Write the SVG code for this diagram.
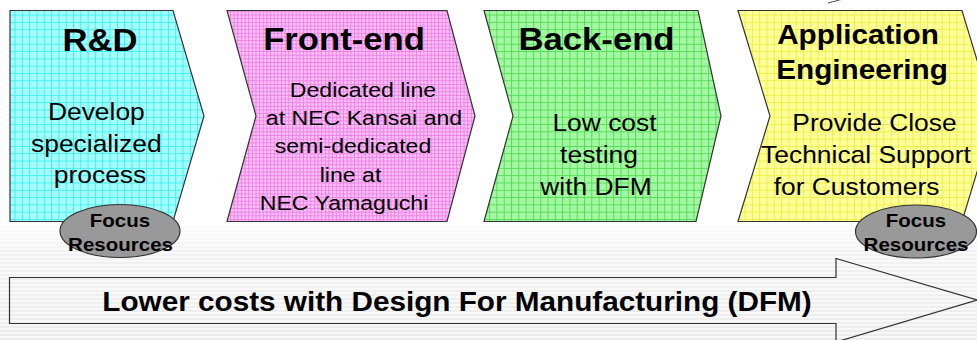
<svg xmlns="http://www.w3.org/2000/svg" width="977" height="340" viewBox="0 0 977 340">
  <defs>
    <!-- faint horizontal banding for the lower backdrop -->
    <pattern id="bands" width="4" height="4" patternUnits="userSpaceOnUse">
      <rect width="4" height="4" fill="#f8f8f8"/>
      <rect y="2" width="4" height="2" fill="#ececec"/>
    </pattern>
    <linearGradient id="fadeIn" x1="0" y1="0" x2="0" y2="1">
      <stop offset="0" stop-color="#ffffff" stop-opacity="0.9"/>
      <stop offset="0.25" stop-color="#ffffff" stop-opacity="0.3"/>
      <stop offset="1" stop-color="#ffffff" stop-opacity="0"/>
    </linearGradient>
    <!-- gridded fills for the stage shapes -->
    <pattern id="gridCyan" width="7.3" height="7.3" patternUnits="userSpaceOnUse">
      <rect width="7.3" height="7.3" fill="#a6fdfd"/>
      <path d="M0 0.5H7.3M0.5 0V7.3" stroke="#3ff0f0" stroke-width="1"/>
    </pattern>
    <pattern id="gridPink" width="7.3" height="7.3" patternUnits="userSpaceOnUse">
      <rect width="7.3" height="7.3" fill="#f8c2f4"/>
      <path d="M0 0.5H7.3M0.5 0V7.3M0 4.15H7.3M4.15 0V7.3" stroke="#ee80e8" stroke-width="1"/>
    </pattern>
    <pattern id="gridGreen" width="7.3" height="7.3" patternUnits="userSpaceOnUse">
      <rect width="7.3" height="7.3" fill="#a4f8a4"/>
      <path d="M0 0.5H7.3M0.5 0V7.3" stroke="#55dd55" stroke-width="1"/>
    </pattern>
    <pattern id="gridYellow" width="7.3" height="7.3" patternUnits="userSpaceOnUse">
      <rect width="7.3" height="7.3" fill="#ffff9c"/>
      <path d="M0 0.5H7.3M0.5 0V7.3" stroke="#eeee44" stroke-width="1"/>
    </pattern>
  </defs>
  <style>
    .stage { stroke: #333333; stroke-width: 1.2; stroke-linejoin: miter; }
    .title { font-family: "Liberation Sans", Arial, sans-serif; font-weight: bold; font-size: 31.5px; fill: #000; text-anchor: middle; }
    .body { font-family: "Liberation Sans", Arial, sans-serif; font-size: 24px; fill: #000; text-anchor: middle; }
    .small { font-size: 21px; }
    .focus { fill: #999999; stroke: #333333; stroke-width: 1.2; }
    .focusText { font-family: "Liberation Sans", Arial, sans-serif; font-weight: bold; font-size: 19px; fill: #000; text-anchor: middle; }
    .banner { fill: none; stroke: #333333; stroke-width: 1.2; }
    .bannerText { font-family: "Liberation Sans", Arial, sans-serif; font-weight: bold; font-size: 27px; fill: #000; text-anchor: middle; }
  </style>

  <!-- backdrop -->
  <rect width="977" height="340" fill="#ffffff"/>
  <rect y="224" width="977" height="116" fill="url(#bands)"/>
  <rect y="224" width="977" height="116" fill="url(#fadeIn)"/>
  <path d="M828 3 L843 -1" stroke="#555555" stroke-width="1" fill="none"/>

  <!-- stage: R&D -->
  <g id="rnd">
    <polygon class="stage" fill="url(#gridCyan)" points="10,10.5 173,10.5 204,116 173,221.5 10,221.5"/>
    <text class="title" transform="translate(100,0) scale(1.1,1)" y="51">R&amp;D</text>
    <text class="body" transform="translate(100,0) scale(1.1,1)">
      <tspan x="0" y="120.5">Develop</tspan>
      <tspan x="0" y="152">specialized</tspan>
      <tspan x="0" y="183.5">process</tspan>
    </text>
  </g>

  <!-- stage: Front-end -->
  <g id="frontend">
    <polygon class="stage" fill="url(#gridPink)" points="227,10.5 447,10.5 475,116 447,221.5 227,221.5 256,116"/>
    <text class="title" transform="translate(344,0) scale(1.1,1)" y="50">Front-end</text>
    <text class="body small" transform="translate(363,0) scale(1.1,1)" y="97">Dedicated line</text>
    <text class="body small" transform="translate(364,0) scale(1.1,1)" y="125">at NEC Kansai and</text>
    <text class="body small" transform="translate(353,0) scale(1.1,1)" y="153.5">semi-dedicated</text>
    <text class="body small" transform="translate(350.5,0) scale(1.1,1)" y="182.5">line at</text>
    <text class="body small" transform="translate(344,0) scale(1.1,1)" y="210.5">NEC Yamaguchi</text>
  </g>

  <!-- stage: Back-end -->
  <g id="backend">
    <polygon class="stage" fill="url(#gridGreen)" points="484,10.5 698,10.5 721,116 696,221.5 484,221.5 513,116"/>
    <text class="title" transform="translate(596.5,0) scale(1.1,1)" y="50">Back-end</text>
    <text class="body" transform="translate(604.5,0) scale(1.1,1)" y="131.5">Low cost</text>
    <text class="body" transform="translate(599,0) scale(1.1,1)" y="163">testing</text>
    <text class="body" transform="translate(596,0) scale(1.1,1)" y="195">with DFM</text>
  </g>

  <!-- stage: Application Engineering -->
  <g id="appeng">
    <polygon class="stage" fill="url(#gridYellow)" points="738,10.5 962,10.5 994,116 962,221.5 738,221.5 770,116"/>
    <text class="title" style="font-size:27px" transform="translate(858,0) scale(1.1,1)" y="44.5">Application</text>
    <text class="title" style="font-size:27px" transform="translate(862,0) scale(1.1,1)" y="79">Engineering</text>
    <text class="body" transform="translate(874.5,0) scale(1.1,1)" y="131.5">Provide Close</text>
    <text class="body" transform="translate(866,0) scale(1.1,1)" y="163">Technical Support</text>
    <text class="body" transform="translate(856.5,0) scale(1.1,1)" y="195">for Customers</text>
  </g>

  <!-- focus markers -->
  <g id="focus-rnd">
    <ellipse class="focus" cx="120" cy="231" rx="60" ry="26.5"/>
    <text class="focusText" transform="translate(120,0) scale(1.08,1)" y="227.5">Focus</text>
    <text class="focusText" transform="translate(120.5,0) scale(1.08,1)" y="251.5">Resources</text>
  </g>
  <g id="focus-appeng">
    <ellipse class="focus" cx="916" cy="231.5" rx="60.5" ry="26.5"/>
    <text class="focusText" transform="translate(916,0) scale(1.08,1)" y="227.5">Focus</text>
    <text class="focusText" transform="translate(916,0) scale(1.08,1)" y="251.5">Resources</text>
  </g>

  <!-- connectors: overall flow banner -->
  <g id="connectors">
    <path class="banner" d="M9.5 277.5 H836 V258.5 L977 300 L836 342 V323.5 H9.5 Z"/>
    <text class="bannerText" transform="translate(457,0) scale(1.1,1)" y="311.5">Lower costs with Design For Manufacturing (DFM)</text>
  </g>
</svg>
